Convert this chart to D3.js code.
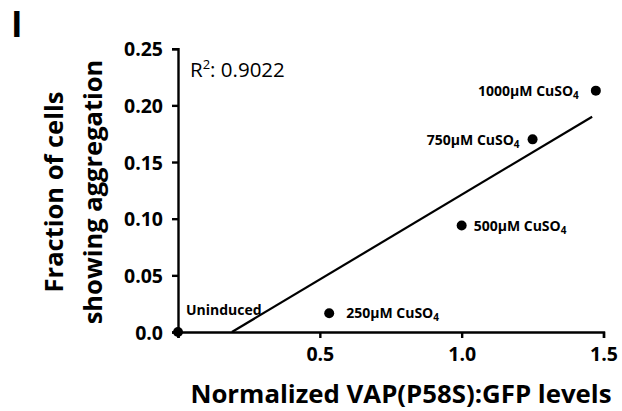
<!DOCTYPE html>
<html><head><meta charset="utf-8">
<script src="https://cdn.jsdelivr.net/npm/d3@7"></script>
<style>
body{margin:0;background:#fff;}
svg text{font-family:"Open Sans",sans-serif;fill:#000;}
</style></head>
<body>
<svg id="c" width="622" height="411"></svg>
<script>
const conditions = ["Uninduced","250µM CuSO4","500µM CuSO4","750µM CuSO4","1000µM CuSO4"];
const gfpLevels = [0, 0.533, 1.0, 1.25, 1.473];
const aggregationFraction = [0, 0.0165, 0.094, 0.170, 0.213];
const fitLine = [[0.19, 0], [1.46, 0.19]];
const rSquared = "0.9022";
const yTicks = [0, 0.05, 0.10, 0.15, 0.20, 0.25];
const yTickLabels = ["0.0","0.05","0.10","0.15","0.20","0.25"];
const xTicks = [0, 0.5, 1.0, 1.5];
const xTickLabels = ["", "0.5", "1.0", "1.5"];

const svg = d3.select("#c");
const x = d3.scaleLinear().domain([0, 1.5]).range([178, 603.5]);
const y = d3.scaleLinear().domain([0, 0.25]).range([332, 48.7]);

// panel letter
svg.append("text").attr("x", 11).attr("y", 36.5).attr("font-size", 35).attr("font-weight", 700).text("I");

// axes
const yAxis = d3.axisLeft(y).tickValues(yTicks).tickFormat((d,i)=>yTickLabels[i]).tickSizeOuter(0).tickSize(6).tickPadding(9);
const gy = svg.append("g").attr("transform", `translate(${x(0)},0)`).call(yAxis);
const xAxis = d3.axisBottom(x).tickValues(xTicks).tickFormat((d,i)=>xTickLabels[i]).tickSizeOuter(0).tickSize(6).tickPadding(9);
const gx = svg.append("g").attr("transform", `translate(0,${y(0)})`).call(xAxis);
[gx, gy].forEach(g => {
  g.select(".domain").attr("stroke-width", 2.4);
  g.selectAll(".tick line").attr("stroke-width", 2.4);
  g.selectAll(".tick text").attr("font-size", 19.5).attr("font-weight", 700).style("font-family", "'Open Sans',sans-serif");
});
gy.selectAll(".tick text").attr("dy", "0.36em");

// axis titles
svg.append("text").attr("x", 401).attr("y", 403).attr("text-anchor", "middle")
  .attr("font-size", 25.8).attr("font-weight", 700).text("Normalized VAP(P58S):GFP levels");
const yt = svg.append("text").attr("transform", "translate(0,192) rotate(-90)")
  .attr("text-anchor", "middle").attr("font-size", 25.5).attr("font-weight", 700);
yt.append("tspan").attr("x", 0).attr("y", 63).text("Fraction of cells");
yt.append("tspan").attr("x", 0).attr("y", 102).text("showing aggregation");

// R squared
const rt = svg.append("text").attr("x", 190).attr("y", 76.7).attr("font-size", 20.5);
rt.append("tspan").text("R");
rt.append("tspan").attr("font-size", 13).attr("dy", -8).text("2");
rt.append("tspan").attr("dy", 8).text(": " + rSquared);

// fit line
svg.append("line")
  .attr("x1", x(fitLine[0][0])).attr("y1", y(fitLine[0][1]))
  .attr("x2", x(fitLine[1][0])).attr("y2", y(fitLine[1][1]))
  .attr("stroke", "#000").attr("stroke-width", 2.2);

// points
const data = conditions.map((c,i)=>({c, x: gfpLevels[i], y: aggregationFraction[i]}));
svg.selectAll("circle.pt").data(data).enter().append("circle").attr("class","pt")
  .attr("cx", d=>x(d.x)).attr("cy", d=>y(d.y)).attr("r", 5).attr("fill", "#000");

// labels: [dx, dy, anchor]
const labelPos = [[8, -17, "start"], [17, 5, "start"], [12, 6, "start"], [-13, 6, "end"], [-17, 5, "end"]];
data.forEach((d,i)=>{
  const [dx, dy, anc] = labelPos[i];
  const t = svg.append("text").attr("x", x(d.x)+dx).attr("y", y(d.y)+dy)
    .attr("text-anchor", anc).attr("font-size", 14).attr("font-weight", 700);
  const m = d.c.match(/^(.*CuSO)(4)$/);
  if (m) {
    t.append("tspan").text(m[1]);
    t.append("tspan").attr("font-size", 10).attr("dy", 3).text(m[2]);
  } else t.text(d.c);
});
</script>
</body></html>
